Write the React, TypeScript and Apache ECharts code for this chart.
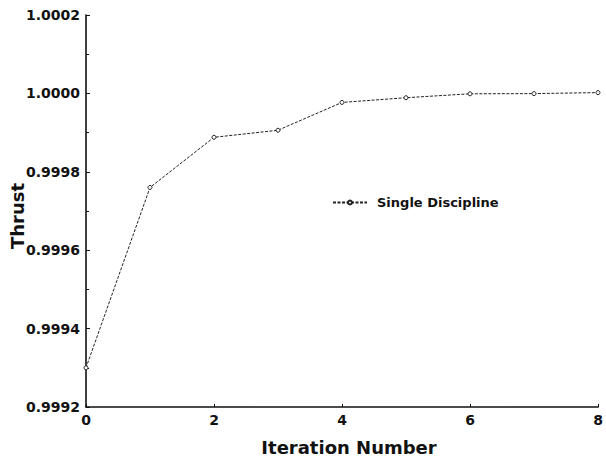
import React, { useEffect, useRef } from "react";
import * as echarts from "echarts";

const iterations = [0, 1, 2, 3, 4, 5, 6, 7, 8];
const thrust = [0.99930, 0.99976, 0.999888, 0.999906, 0.999977, 0.999989, 0.999999, 0.9999995, 1.000002];
const seriesName = "Single Discipline";
const xTicks = [0, 2, 4, 6, 8];
const yTickLabels = ["0.9992", "0.9994", "0.9996", "0.9998", "1.0000", "1.0002"];
const yTitle = "Thrust";
const xTitle = "Iteration Number";

const FONT = "'DejaVu Sans', 'Liberation Sans', Arial, sans-serif";

export default function App() {
  const ref = useRef<HTMLDivElement>(null);
  useEffect(() => {
    if (!ref.current) return;
    const chart = echarts.init(ref.current, undefined, { renderer: "svg" });
    chart.setOption({
      animation: false,
      backgroundColor: "#ffffff",
      textStyle: { fontFamily: FONT },
      grid: { left: 86, right: 8, top: 15, bottom: 56, containLabel: false },
      legend: {
        left: 327,
        top: 191,
        itemWidth: 34,
        itemHeight: 5,
        itemGap: 10,
        data: [seriesName],
        textStyle: { fontFamily: FONT, fontWeight: "bold", fontSize: 13, color: "#111", padding: [0, 0, 0, 5] },
      },
      graphic: [
        {
          type: "text",
          x: 17,
          y: 216,
          rotation: Math.PI / 2,
          style: {
            text: yTitle,
            fontFamily: FONT,
            fontWeight: "bold",
            fontSize: 18,
            fill: "#111",
            align: "center",
            verticalAlign: "middle",
          },
        },
      ],
      xAxis: {
        type: "value",
        min: 0,
        max: 8,
        interval: 2,
        name: xTitle,
        nameLocation: "middle",
        nameGap: 31,
        nameTextStyle: { fontFamily: FONT, fontWeight: "bold", fontSize: 18, color: "#111", padding: [0, 0, 0, 14] },
        axisLine: { lineStyle: { color: "#111", width: 1.6 } },
        axisTick: { inside: true, length: 3, lineStyle: { color: "#111" } },
        axisLabel: {
          fontFamily: FONT,
          fontWeight: "bold",
          fontSize: 14,
          color: "#111",
          margin: 6,
          formatter: (v: number) => (xTicks.includes(v) ? String(v) : ""),
        },
        splitLine: { show: false },
      },
      yAxis: {
        type: "value",
        min: 0.9992,
        max: 1.0002,
        interval: 0.0002,
        axisLine: { show: true, lineStyle: { color: "#111", width: 1.6 } },
        axisTick: { show: true, inside: true, length: 4, lineStyle: { color: "#111" } },
        minorTick: { show: true, splitNumber: 2, length: 3, lineStyle: { color: "#111" } },
        axisLabel: {
          fontFamily: FONT,
          fontWeight: "bold",
          fontSize: 14,
          color: "#111",
          margin: 6,
          formatter: (v: number) => {
            const i = Math.round((v - 0.9992) / 0.0002);
            return yTickLabels[i] ?? "";
          },
        },
        splitLine: { show: false },
      },
      series: [
        {
          name: seriesName,
          type: "line",
          data: iterations.map((x, i) => [x, thrust[i]]),
          symbol: "circle",
          symbolSize: 4,
          itemStyle: { color: "#ffffff", borderColor: "#222", borderWidth: 1 },
          lineStyle: { color: "#222", width: 1, type: [3, 1.5] },
          clip: false,
        },
      ],
    });
    return () => chart.dispose();
  }, []);
  return <div ref={ref} style={{ width: 606, height: 463, position: "absolute", left: 0, top: 0 }} />;
}
